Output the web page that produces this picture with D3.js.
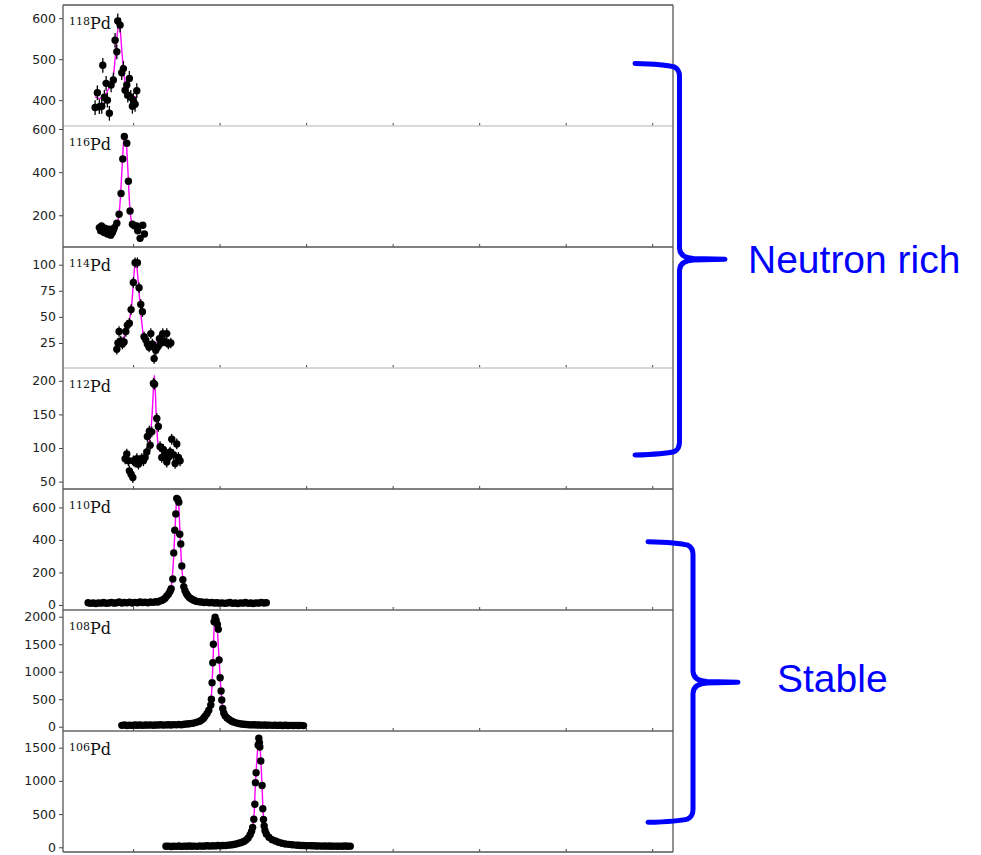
<!DOCTYPE html>
<html>
<head>
<meta charset="utf-8">
<script src="https://cdn.jsdelivr.net/npm/d3@7"></script>
<style>
  body { margin: 0; background: #fff; }
  svg { display: block; }
  .yaxis text { font-family: "DejaVu Sans", sans-serif; font-size: 12.5px; fill: #222; }
  .yaxis line, .xaxis line { stroke: #444; }
</style>
</head>
<body>
<svg id="chart" width="981" height="855"></svg>
<script>
// isotope of each panel, top to bottom
const isotopes = ["118", "116", "114", "112", "110", "108", "106"];

// shared x axis (no labels in the figure)
const xDomain = [19, 724];
const xTicks = [100, 200, 300, 400, 500, 600, 700];

// y range and ticks of each panel
const yDomains = [[337, 632], [53, 614], [1, 117], [39, 219], [-31, 713], [-78, 2122], [-71, 1751]];
const yTicks = [
  [400, 500, 600],
  [200, 400, 600],
  [25, 50, 75, 100],
  [50, 100, 150, 200],
  [0, 200, 400, 600],
  [0, 500, 1000, 1500, 2000],
  [0, 500, 1000, 1500]
];
// typical error bar half-length in each panel
const errSize = [18, 14, 5, 8, 12, 25, 20];

// measured points [x, counts]
const pd118 = [[56.1,382],[58.7,418],[61,384],[63.8,385],[65,485],[66.8,407],[68.8,441],[70.3,400],[72.6,368],[74.6,437],[77.2,449],[79.2,546],[81.2,518],[82.3,593],[85,583],[86.9,467],[88.8,477],[90.8,424],[92.7,437],[93.9,412],[95.7,453],[97.3,407],[99.2,385],[100.3,400],[102.3,390],[104.3,423]];
const pd116 = [[61,143],[62.5,128],[63.5,151],[65,136],[66.5,120],[67.5,140],[68.4,126],[70.3,113],[71.2,131],[72.3,136],[73.3,118],[74.2,108],[76.1,120],[77.3,132],[78.4,143],[81.2,163],[83.8,205],[86.1,301],[88.1,461],[89.9,565],[92.7,534],[94.6,358],[96.5,220],[99.2,159],[101.5,151],[104.3,151],[105.4,128],[108.1,93],[111.2,154],[113.1,113]];
const pd114 = [[81.2,19],[82.5,25],[83.8,36],[85.8,27],[87.6,24],[89.6,26],[91.6,36],[93.4,42],[95.7,44],[97.7,57],[100.3,83],[102.3,102],[105,102],[106.9,78],[108.9,62],[110.8,55],[112.7,31],[114.7,28],[116.5,24],[118.5,21],[120.5,34],[122.3,24],[124.3,10],[126.2,18],[128.1,21],[130.4,29],[132.4,25],[134.3,34],[136.2,27],[138.9,34],[140.8,24],[143.6,25]];
const pd112 = [[90.8,84],[92.7,91],[94.6,81],[95.7,66],[97.7,61],[99.7,56],[100.3,81],[102.3,79],[104.3,84],[106.1,76],[108.1,82],[110.1,84],[111.9,81],[113.9,86],[115.8,94],[116.5,117],[118.8,125],[119.7,104],[121.6,124],[123.5,196],[124.8,195],[127.4,144],[129.2,132],[131.2,102],[133.2,86],[135,98],[137,91],[138.9,79],[140.8,86],[142.8,94],[144.7,113],[146.6,90],[148.6,77],[150.5,106],[152.4,86],[154.3,81]];
const pd110 = [[48,14],[51,10],[54,12],[57,9],[60,13],[63,11],[66,15],[69,10],[72,12],[75,16],[78,11],[81,14],[84,18],[87,12],[90,15],[93,13],[96,17],[99,12],[102,16],[105,14],[108,18],[111,15],[114,17],[117,14],[120,18],[123,16],[126,20],[128.5,18],[131,24],[133,28],[135,34],[137,42],[139,55],[141,68],[142.8,85],[144,100],[145.9,160],[147,320],[148.2,460],[149.4,560],[150.5,655],[151.7,648],[152.8,632],[154,435],[155.1,375],[156.3,240],[157.5,155],[158.6,112],[160,88],[161.5,70],[163,58],[165,46],[167,38],[169,32],[171,27],[173.5,22],[176,20],[179,18],[182,15],[185,17],[188,13],[191,15],[194,12],[197,14],[200,11],[203,13],[206,10],[209,12],[212,15],[215,10],[218,12],[221,9],[224,13],[227,11],[230,15],[233,10],[236,12],[239,9],[242,13],[245,11],[248,16],[251,12],[254,14]];
const pd108 = [[87,25],[90,30],[93,22],[96,28],[99,24],[102,30],[105,26],[108,32],[111,25],[114,30],[117,28],[120,34],[123,27],[126,32],[129,30],[132,36],[135,29],[138,33],[141,35],[144,31],[147,38],[150,34],[153,40],[156,37],[159,44],[162,48],[165,54],[168,60],[171,70],[174,84],[177,100],[179.5,125],[181.5,155],[183.2,190],[185.5,240],[187.5,300],[189.8,395],[190.5,498],[191.3,800],[192.1,1164],[192.8,1498],[193.6,1909],[194.8,1989],[196,1930],[197.4,1860],[198.5,1770],[199.4,1213],[200.6,891],[201.7,649],[202.5,485],[203.6,330],[204.8,250],[206.3,200],[208.6,160],[211,130],[213.5,105],[216,85],[219,70],[222,58],[225,50],[228,44],[231,40],[234,36],[237,33],[240,35],[243,30],[246,32],[249,28],[252,30],[255,27],[258,29],[261,25],[264,28],[267,24],[270,27],[273,22],[276,26],[279,23],[282,25],[285,21],[288,24],[291,22],[294,25],[297,20]];
const pd106 = [[138,15],[141,18],[144,12],[147,16],[150,14],[153,19],[156,13],[159,17],[162,15],[165,20],[168,16],[171,18],[174,14],[177,21],[180,17],[183,19],[186,22],[189,18],[192,24],[195,21],[198,26],[201,23],[204,28],[207,27],[210,32],[213,36],[216,42],[219,50],[222,60],[225,72],[228,88],[230.5,108],[233,140],[235.3,190],[237,240],[238.2,300],[239.5,422],[240.7,648],[241.4,973],[242.2,1123],[244.5,1541],[245.3,1642],[246,1575],[246.5,1510],[247.6,1300],[249.1,930],[249.9,580],[250.7,420],[251.5,320],[252.5,250],[254,200],[257,150],[260.7,115],[264.5,95],[268,75],[272,60],[276,50],[280,44],[284,38],[288,33],[291,30],[294,27],[297,28],[300,24],[303,25],[306,22],[309,23],[312,20],[315,21],[318,18],[321,20],[324,17],[327,19],[330,16],[333,18],[336,15],[339,17],[342,16],[345,19],[348,15],[351,17]];

// fitted curves [x, counts]
const fit118 = [[56,408],[62,404],[67,410],[71,425],[74,438],[77,455],[79,495],[81,545],[83,578],[85,572],[87,520],[89.6,460],[93,425],[97.7,410],[104.6,408]];
const fit116 = [[61,140],[70,135],[76,138],[80,150],[83,185],[85,260],[87,400],[89,540],[90.5,572],[92,545],[94,410],[96,250],[98,175],[101,152],[107,146],[113,142]];
const fit114 = [[81,21],[85,24],[89,30],[93,38],[96,48],[98.5,62],[100.5,85],[102.5,102],[104,100],[105.5,88],[107.5,68],[110,45],[112,32],[115,27],[120,26],[130,25],[143,26]];
const fit112 = [[91,82],[100,82],[108,84],[113,89],[116,97],[118,106],[120,120],[122,150],[123.5,188],[124.6,208],[125.8,182],[127,140],[128.5,110],[130,98],[134,93],[140,90],[147,87],[154,86]];
const fit110 = [[48,12],[120,16],[132,25],[138,45],[142,80],[144.5,130],[146.5,260],[148.5,470],[150,620],[151.3,668],[152.8,610],[154.2,440],[155.8,270],[157.5,160],[160,90],[164,52],[170,30],[180,18],[200,13],[254,12]];
const fit108 = [[87,28],[150,35],[165,52],[175,85],[181,145],[185,230],[188,320],[189.5,420],[190.5,560],[191.5,850],[192.3,1180],[193,1500],[193.8,1850],[194.8,1990],[195.8,2010],[197,1870],[198.2,1550],[199.4,1220],[200.6,890],[201.7,640],[202.7,450],[204,310],[206,210],[209,155],[213,110],[220,68],[230,42],[250,30],[297,24]];
const fit106 = [[138,16],[200,24],[215,40],[225,70],[232,125],[236,210],[238.5,320],[240,520],[241.2,900],[242.5,1200],[244,1480],[245.5,1660],[246.5,1600],[247.6,1320],[249,950],[250,600],[251,410],[252.5,270],[255,180],[260,115],[270,65],[290,32],[351,16]];

const points = [pd118, pd116, pd114, pd112, pd110, pd108, pd106];
const fits = [fit118, fit116, fit114, fit112, fit110, fit108, fit106];

// ---- layout ----
const left = 63, right = 673, top0 = 5, panelH = 121;
const nP = isotopes.length;
const bottom = top0 + nP * panelH;
const svg = d3.select("#chart");

const x = d3.scaleLinear().domain(xDomain).range([left, right]);

const line = d3.line().curve(d3.curveMonotoneX);

isotopes.forEach((iso, i) => {
  let top = top0 + i * panelH;
  let y = d3.scaleLinear().domain(yDomains[i]).range([top + panelH, top]);

  let clipId = "clip" + i;
  svg.append("clipPath").attr("id", clipId)
    .append("rect").attr("x", left).attr("y", top).attr("width", right - left).attr("height", panelH);

  // y axis
  let ya = svg.append("g").attr("class", "yaxis").attr("transform", "translate(" + left + ",0)")
    .call(d3.axisLeft(y).tickValues(yTicks[i]).tickFormat(d3.format("d")).tickSize(4).tickPadding(3));
  ya.select(".domain").remove();

  // x ticks, pointing in
  let xa = svg.append("g").attr("class", "xaxis").attr("transform", "translate(0," + (top + panelH) + ")")
    .call(d3.axisBottom(x).tickValues(xTicks).tickSize(-3).tickFormat(""));
  xa.select(".domain").remove();

  let g = svg.append("g").attr("clip-path", "url(#" + clipId + ")");
  let e = errSize[i];

  // fit goes under the markers
  line.x(d => x(d[0])).y(d => y(d[1]));
  g.append("path").attr("d", line(fits[i]))
    .attr("fill", "none").attr("stroke", "#ff00ff").attr("stroke-width", 1.4);

  g.selectAll(".err").data(points[i]).enter().append("line")
    .attr("x1", d => x(d[0])).attr("x2", d => x(d[0]))
    .attr("y1", d => y(d[1] - e)).attr("y2", d => y(d[1] + e))
    .attr("stroke", "#000").attr("stroke-width", 1.3);

  g.selectAll(".pt").data(points[i]).enter().append("circle")
    .attr("cx", d => x(d[0])).attr("cy", d => y(d[1])).attr("r", 3.7)
    .attr("fill", "#000");

  // isotope label
  let lab = svg.append("text").attr("x", left + 6).attr("y", top + 24)
    .attr("font-family", "DejaVu Serif, serif").attr("fill", "#111");
  lab.append("tspan").attr("font-size", 11).attr("dy", -4.5).text(iso);
  lab.append("tspan").attr("font-size", 16).attr("dy", 4.5).text("Pd");
});

// frame: panel separators, some came out light in the figure
const sepColor = ["#555", "#ccc", "#555", "#ccc", "#555", "#666", "#666", "#555"];
for (let k = 0; k <= nP; k++) {
  let yy = top0 + k * panelH;
  svg.append("line").attr("x1", left).attr("x2", right).attr("y1", yy).attr("y2", yy)
    .attr("stroke", sepColor[k]).attr("stroke-width", 1.3);
}
svg.append("line").attr("x1", left).attr("x2", left).attr("y1", top0).attr("y2", bottom)
  .attr("stroke", "#555").attr("stroke-width", 1.3);
svg.append("line").attr("x1", right).attr("x2", right).attr("y1", top0).attr("y2", bottom)
  .attr("stroke", "#555").attr("stroke-width", 1.3);

// curly braces with labels
function bracePath(xArm, xV, xTip, yTop, yMid, yBot) {
  let p = d3.path();
  p.moveTo(xArm, yTop);
  p.quadraticCurveTo(xV - 15, yTop + 0.7, xV - 5, yTop + 3.5);
  p.quadraticCurveTo(xV, yTop + 6, xV, yTop + 13);
  p.lineTo(xV, yMid - 11);
  p.quadraticCurveTo(xV + 0.5, yMid - 1.5, xV + 14, yMid - 0.8);
  p.lineTo(xTip, yMid);
  p.lineTo(xV + 14, yMid + 0.8);
  p.quadraticCurveTo(xV + 0.5, yMid + 1.5, xV, yMid + 11);
  p.lineTo(xV, yBot - 13);
  p.quadraticCurveTo(xV, yBot - 6, xV - 5, yBot - 3.5);
  p.quadraticCurveTo(xV - 15, yBot - 0.7, xArm, yBot);
  return p.toString();
}

const braces = [
  {text: "Neutron rich", xArm: 635, xV: 679.5, xTip: 725, yTop: 63.5, yMid: 259.3, yBot: 455, tx: 748, ty: 273},
  {text: "Stable", xArm: 648, xV: 693, xTip: 738, yTop: 541.7, yMid: 682.3, yBot: 822.3, tx: 777, ty: 692}
];
braces.forEach(b => {
  svg.append("path").attr("d", bracePath(b.xArm, b.xV, b.xTip, b.yTop, b.yMid, b.yBot))
    .attr("fill", "none").attr("stroke", "#0000ff").attr("stroke-width", 5)
    .attr("stroke-linecap", "round").attr("stroke-linejoin", "round");
  svg.append("text").attr("x", b.tx).attr("y", b.ty)
    .attr("font-family", "Liberation Sans, Arial, sans-serif").attr("font-size", 39)
    .attr("fill", "#0000ff").text(b.text);
});
</script>
</body>
</html>
